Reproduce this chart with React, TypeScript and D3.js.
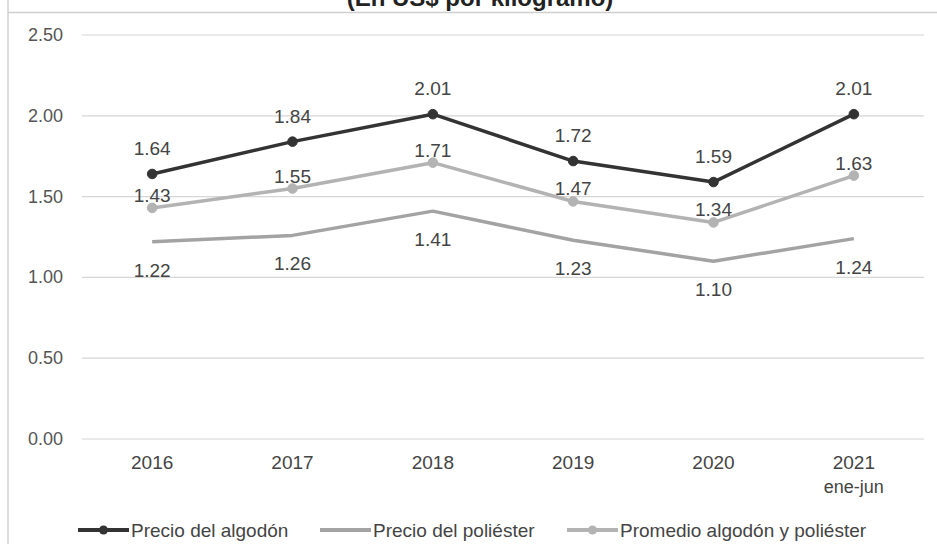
import React from "react";
import * as d3 from "d3";

// Chart data (US$ por kilogramo)
const years = ["2016", "2017", "2018", "2019", "2020", "2021"];
const yearSub = ["", "", "", "", "", "ene-jun"];
const algodon = [1.64, 1.84, 2.01, 1.72, 1.59, 2.01];
const poliester = [1.22, 1.26, 1.41, 1.23, 1.1, 1.24];
const promedio = [1.43, 1.55, 1.71, 1.47, 1.34, 1.63];
const yTicks = [0, 0.5, 1, 1.5, 2, 2.5];
const legendNames = ["Precio del algodón", "Precio del poliéster", "Promedio algodón y poliéster"];

const FONT = "'Liberation Sans', Arial, sans-serif";

const App = () => {
  const width = 937;
  const height = 544;

  const x = d3.scaleBand().domain(years).range([82, 924]);
  const y = d3.scaleLinear().domain([0, 2.5]).range([439, 35]);

  const line = d3
    .line<number>()
    .x((d, i) => (x(years[i]) as number) + x.bandwidth() / 2)
    .y((d) => y(d));

  const series = [
    { name: legendNames[0], values: algodon, color: "#333333", marker: true, labelDy: -19 },
    { name: legendNames[1], values: poliester, color: "#a3a3a3", marker: false, labelDy: 35 },
    { name: legendNames[2], values: promedio, color: "#b3b3b3", marker: true, labelDy: -6 },
  ];

  const legendX = [78, 320, 567];
  const cx = (i: number) => (x(years[i]) as number) + x.bandwidth() / 2;

  return (
    <svg
      width={width}
      height={height}
      style={{ position: "absolute", left: 0, top: 0, background: "#fff" }}
      fontFamily={FONT}
    >
      {/* frame */}
      <line x1={8} x2={8} y1={0} y2={height} stroke="#d0d0d0" strokeWidth={1.5} />
      <line x1={8} x2={width} y1={12.5} y2={12.5} stroke="#cfcfcf" strokeWidth={1.5} />

      {/* title (cut off at top) */}
      <text x={480} y={6} textAnchor="middle" fontSize={24} fontWeight="bold" fill="#222">
        (En US$ por kilogramo)
      </text>

      {/* grid + y labels */}
      {yTicks.map((t) => (
        <g key={t}>
          <line x1={82} x2={924} y1={y(t)} y2={y(t)} stroke="#d6d6d6" strokeWidth={1.2} />
          <text x={63} y={y(t) + 6} textAnchor="end" fontSize={18} fill="#555">
            {t.toFixed(2)}
          </text>
        </g>
      ))}

      {/* x labels */}
      {years.map((yr, i) => (
        <g key={yr}>
          <text x={cx(i)} y={469} textAnchor="middle" fontSize={19} fill="#444">
            {yr}
          </text>
          {yearSub[i] && (
            <text x={cx(i)} y={493} textAnchor="middle" fontSize={18} fill="#444">
              {yearSub[i]}
            </text>
          )}
        </g>
      ))}

      {/* lines, markers, labels */}
      {series.map((s) => (
        <g key={s.name}>
          <path d={line(s.values) || ""} fill="none" stroke={s.color} strokeWidth={3.5} strokeLinejoin="round" />
          {s.marker &&
            s.values.map((v, i) => (
              <circle key={i} cx={cx(i)} cy={y(v)} r={4.8} fill={s.color} stroke={s.color} />
            ))}
          {s.values.map((v, i) => (
            <text key={"l" + i} x={cx(i)} y={y(v) + s.labelDy} textAnchor="middle" fontSize={19} fill="#444">
              {v.toFixed(2)}
            </text>
          ))}
        </g>
      ))}

      {/* legend */}
      {series.map((s, i) => (
        <g key={"lg" + i} transform={`translate(${legendX[i]},530)`}>
          <line x1={0} x2={51} y1={0} y2={0} stroke={s.color} strokeWidth={4} />
          {s.marker && <circle cx={25.5} cy={0} r={4.5} fill={s.color} />}
          <text x={53} y={7} fontSize={19} fill="#444">
            {s.name}
          </text>
        </g>
      ))}
    </svg>
  );
};

export default App;
